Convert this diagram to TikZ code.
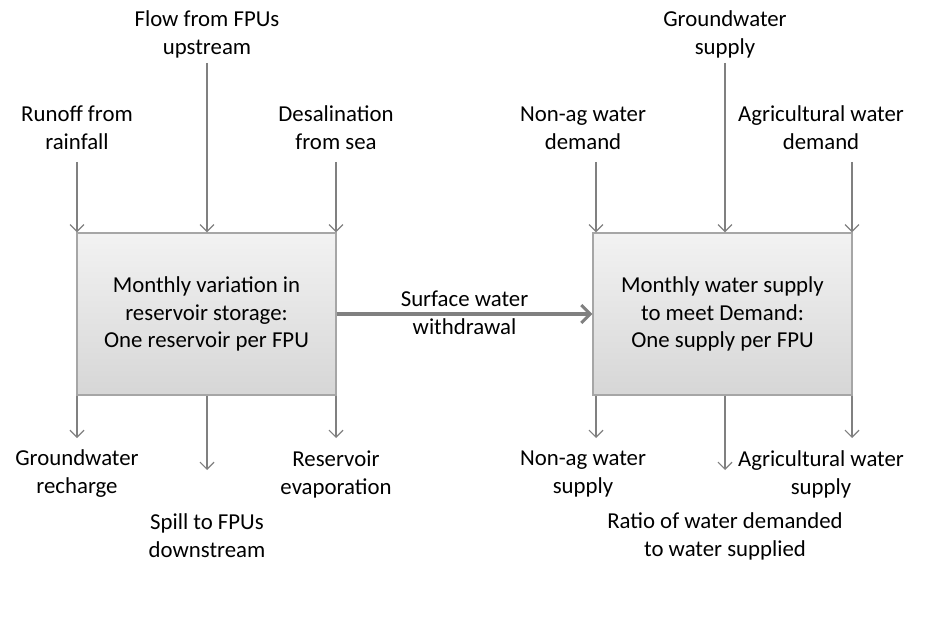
\documentclass[tikz,border=0pt]{standalone}
\usepackage{fontspec}
\setmainfont{Carlito}
\usetikzlibrary{arrows.meta}
\definecolor{linegray}{HTML}{808080}
\definecolor{boxborder}{HTML}{A6A6A6}
\tikzset{
  procbox/.style={draw=boxborder, line width=1.2pt, top color=white!95!black, bottom color=white!84!black,
    minimum width=259pt, minimum height=162pt, align=center, font=\fontsize{22.8}{27.5}\selectfont, inner sep=0pt},
  lbl/.style={align=center, font=\fontsize{22.8}{28}\selectfont, inner sep=0pt},
  flow/.style={draw=linegray, line width=1.2pt, -{Straight Barb[length=7pt,width=14pt,line width=1.2pt]}},
  bigflow/.style={draw=linegray, line width=3.5pt, -{Straight Barb[length=9pt,width=18pt,line width=3pt]}}
}
\begin{document}
\begin{tikzpicture}[x=1pt,y=-1pt]
\useasboundingbox (0,0) rectangle (941,617);
% boxes
\node[procbox] (L) at (206.5,314) {Monthly variation in\\reservoir storage:\\One reservoir per FPU};
\node[procbox] (R) at (722.5,314) {Monthly water supply\\to meet Demand:\\One supply per FPU};
% top labels left
\node[lbl] (t1) at (77,128) {Runoff from\\rainfall};
\node[lbl] (t2) at (207,34) {Flow from FPUs\\upstream};
\node[lbl] (t3) at (336,128) {Desalination\\from sea};
% top labels right
\node[lbl] (t4) at (583,128) {Non-ag water\\demand};
\node[lbl] (t5) at (725,34) {Groundwater\\supply};
\node[lbl] (t6) at (821,128) {Agricultural water\\demand};
% bottom labels left
\node[lbl] (b1) at (77,474) {Groundwater\\recharge};
\node[lbl] (b2) at (207,536) {Spill to FPUs\\downstream};
\node[lbl] (b3) at (336,474) {Reservoir\\evaporation};
% bottom labels right
\node[lbl] (b4) at (583,474) {Non-ag water\\supply};
\node[lbl] (b5) at (725,536) {Ratio of water demanded\\to water supplied};
\node[lbl] (b6) at (821,474) {Agricultural water\\supply};
% coordinates for arrow ends
\coordinate (s1) at (77,162);
\coordinate (s2) at (207,63);
\coordinate (s3) at (336,162);
\coordinate (s4) at (596,162);
\coordinate (s5) at (725,63);
\coordinate (s6) at (852,162);
\coordinate (e1) at (77,438);
\coordinate (e2) at (207,470);
\coordinate (e3) at (336,438);
\coordinate (e4) at (596,438);
\coordinate (e5) at (725,470);
\coordinate (e6) at (852,438);
% incoming
\draw[flow] (s1) -- (s1 |- L.north);
\draw[flow] (s2) -- (s2 |- L.north);
\draw[flow] (s3) -- (s3 |- L.north);
\draw[flow] (s4) -- (s4 |- R.north);
\draw[flow] (s5) -- (s5 |- R.north);
\draw[flow] (s6) -- (s6 |- R.north);
% outgoing
\draw[flow] (e1 |- L.south) -- (e1);
\draw[flow] (e2 |- L.south) -- (e2);
\draw[flow] (e3 |- L.south) -- (e3);
\draw[flow] (e4 |- R.south) -- (e4);
\draw[flow] (e5 |- R.south) -- (e5);
\draw[flow] (e6 |- R.south) -- (e6);
% main arrow
\draw[bigflow] (L.east) -- (R.west);
\node[lbl] (sw) at (464.5,313) {Surface water\\withdrawal};
\end{tikzpicture}
\end{document}
